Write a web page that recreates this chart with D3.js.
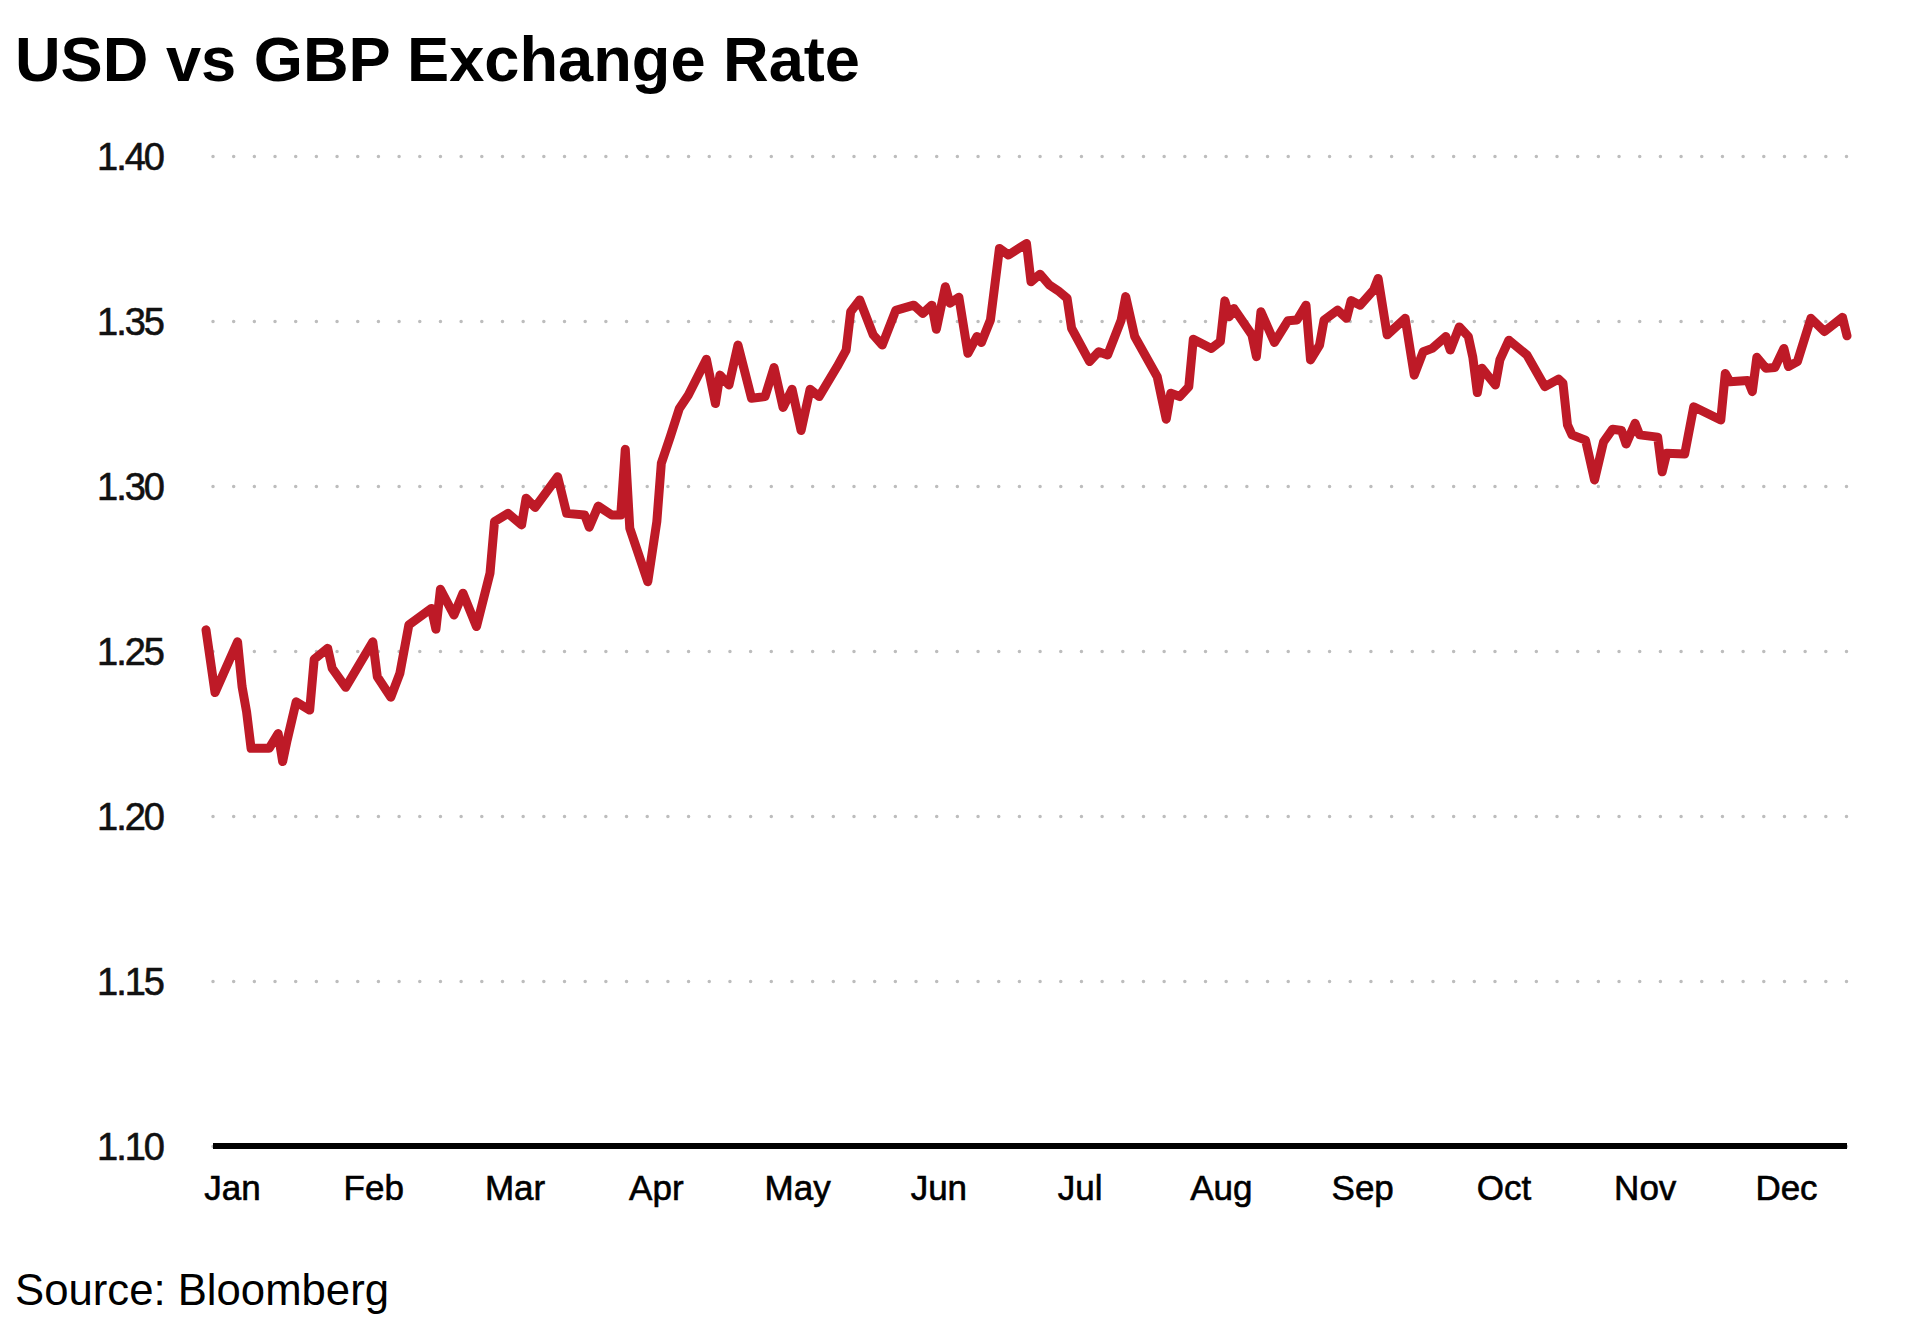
<!DOCTYPE html>
<html>
<head>
<meta charset="utf-8">
<script src="https://cdn.jsdelivr.net/npm/d3@7"></script>
<style>
  body { margin: 0; background: #fff; }
  text { font-family: "Liberation Sans", Arial, Helvetica, sans-serif; }
</style>
</head>
<body>
<svg id="chart" width="1914" height="1320"></svg>
<script>
// days counted from the first quote (2 Jan)
var firstDay = new Date(2024, 0, 2);
var days = [0,2,7,8,9,10,14,16,17,18,20,23,24,27,28,31,37,38,41,43,45,50,51,52,55,57,60,63,64,67,70,71,73,78,80,84,85,87,90,92,93,94,98,100,101,103,105,107,111,113,114,116,118,121,124,126,128,130,132,134,136,140,142,143,145,148,150,153,157,159,161,162,164,165,167,169,171,172,174,176,178,182,183,185,187,189,191,192,196,198,200,203,204,206,211,212,213,214,216,218,219,223,225,226,227,228,232,233,234,237,240,242,244,245,247,248,251,253,254,256,259,260,262,266,268,270,272,275,276,278,280,281,282,283,286,287,289,293,297,300,301,302,303,306,308,310,312,314,315,317,318,322,323,324,328,330,336,337,338,342,343,344,346,348,350,351,353,356,359,363,364];
var rates = [1.2564,1.2374,1.2528,1.2392,1.2316,1.2205,1.2205,1.2250,1.2165,1.2230,
  1.2346,1.2321,1.2475,1.2508,1.2447,1.2390,1.2528,1.2422,1.2360,1.2432,
  1.2579,1.2629,1.2566,1.2687,1.2609,1.2675,1.2574,1.2736,1.2892,1.2917,
  1.2882,1.2963,1.2935,1.3028,1.2917,1.2912,1.2875,1.2939,1.2912,1.2912,
  1.3111,1.2872,1.2710,1.2892,1.3069,1.3150,1.3235,1.3276,1.3384,1.3250,
  1.3336,1.3306,1.3427,1.3266,1.3271,1.3359,1.3238,1.3293,1.3168,1.3293,
  1.3271,1.3362,1.3412,1.3528,1.3564,1.3458,1.3427,1.3532,1.3548,1.3523,
  1.3548,1.3475,1.3604,1.3554,1.3572,1.3402,1.3453,1.3435,1.3503,1.3720,
  1.3700,1.3735,1.3619,1.3642,1.3610,1.3592,1.3569,1.3478,1.3377,1.3407,
  1.3397,1.3503,1.3574,1.3453,1.3331,1.3266,1.3202,1.3281,1.3271,1.3301,
  1.3445,1.3417,1.3438,1.3561,1.3513,1.3538,1.3458,1.3392,1.3528,1.3435,
  1.3501,1.3503,1.3548,1.3382,1.3427,1.3503,1.3533,1.3508,1.3562,1.3548,
  1.3594,1.3629,1.3458,1.3508,1.3336,1.3407,1.3417,1.3453,1.3412,1.3482,
  1.3453,1.3390,1.3283,1.3357,1.3306,1.3382,1.3442,1.3397,1.3301,1.3324,
  1.3311,1.3185,1.3155,1.3139,1.3018,1.3134,1.3172,1.3168,1.3127,1.3190,
  1.3155,1.3148,1.3043,1.3099,1.3097,1.3240,1.3200,1.3341,1.3316,1.3320,
  1.3286,1.3390,1.3357,1.3359,1.3417,1.3362,1.3377,1.3508,1.3468,1.3511,
  1.3455];
var months = ["Jan","Feb","Mar","Apr","May","Jun","Jul","Aug","Sep","Oct","Nov","Dec"];
var yTicks = [1.10, 1.15, 1.20, 1.25, 1.30, 1.35, 1.40];

var svg = d3.select("#chart");

var gridLeft = 213, gridRight = 1847;

var dates = days.map(function (d) { return d3.timeDay.offset(firstDay, d); });
var data = dates.map(function (d, i) { return { date: d, rate: rates[i] }; });

var x = d3.scaleTime()
    .domain(d3.extent(dates))
    .range([206, 1847]);

var y = d3.scaleLinear()
    .domain([1.10, 1.40])
    .range([1146, 156]);

var xMonth = d3.scalePoint()
    .domain(months)
    .range([232, 1786]);

// title
svg.append("text")
    .attr("x", 15)
    .attr("y", 81)
    .attr("font-size", 63)
    .attr("font-weight", "bold")
    .attr("fill", "#000")
    .attr("textLength", 845)
    .attr("lengthAdjust", "spacingAndGlyphs")
    .text("USD vs GBP Exchange Rate");

// y axis + dotted grid (a hair short of 1/79 so the last dot is kept)
var gap = (gridRight - gridLeft - 0.5) / 79;
var yAxis = svg.append("g")
    .attr("transform", "translate(" + gridLeft + ",0)")
    .call(d3.axisLeft(y)
        .tickValues(yTicks)
        .tickFormat(d3.format(".2f"))
        .tickSize(-(gridRight - gridLeft))
        .tickPadding(50));

yAxis.select(".domain").remove();
yAxis.selectAll(".tick line")
    .attr("stroke", "#bdbdbd")
    .attr("stroke-width", 3.5)
    .attr("stroke-linecap", "round")
    .attr("stroke-dasharray", "0," + gap);
yAxis.selectAll(".tick text")
    .attr("font-size", 38)
    .attr("fill", "#111")
    .attr("stroke", "#111")
    .attr("stroke-width", 0.6)
    .attr("letter-spacing", -2)
    .attr("dy", "0.36em");

// solid baseline at the bottom
svg.append("line")
    .attr("x1", gridLeft)
    .attr("x2", gridRight)
    .attr("y1", y(1.10))
    .attr("y2", y(1.10))
    .attr("stroke", "#000")
    .attr("stroke-width", 6);

// month labels
var xAxis = svg.append("g")
    .attr("transform", "translate(0," + y(1.10) + ")")
    .call(d3.axisBottom(xMonth).tickSize(0).tickPadding(29));
xAxis.select(".domain").remove();
xAxis.selectAll(".tick text")
    .attr("font-size", 35)
    .attr("fill", "#000")
    .attr("stroke", "#000")
    .attr("stroke-width", 0.6)
    .attr("dy", "0.71em");

// rate line
var line = d3.line()
    .x(function (d) { return x(d.date); })
    .y(function (d) { return y(d.rate); });

svg.append("path")
    .datum(data)
    .attr("d", line)
    .attr("fill", "none")
    .attr("stroke", "#be1a27")
    .attr("stroke-width", 9)
    .attr("stroke-linejoin", "round")
    .attr("stroke-linecap", "round");

// source
svg.append("text")
    .attr("x", 15)
    .attr("y", 1305)
    .attr("font-size", 44)
    .attr("fill", "#000")
    .attr("textLength", 374)
    .attr("lengthAdjust", "spacingAndGlyphs")
    .text("Source: Bloomberg");
</script>
</body>
</html>
